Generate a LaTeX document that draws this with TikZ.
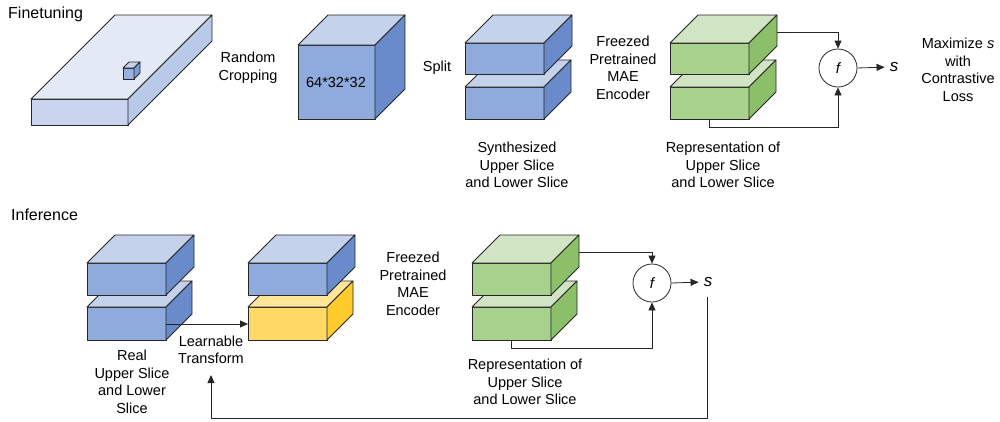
\documentclass[tikz,border=0pt]{standalone}
\usepackage{fontspec}
\setmainfont{Liberation Sans}
\usetikzlibrary{arrows.meta}
\definecolor{bfront}{HTML}{8FAADC}
\definecolor{btop}{HTML}{C5D2EC}
\definecolor{bside}{HTML}{6A8BCB}
\definecolor{lfront}{HTML}{C9D5EE}
\definecolor{ltop}{HTML}{E3E9F5}
\definecolor{lside}{HTML}{B9C9E8}
\definecolor{gfront}{HTML}{A9D18E}
\definecolor{gtop}{HTML}{D1E5C4}
\definecolor{gside}{HTML}{8CC068}
\definecolor{yfront}{HTML}{FFD966}
\definecolor{ytop}{HTML}{FFE699}
\definecolor{yside}{HTML}{FFCA2C}
% x y w h d front top side
\newcommand{\mybox}[8]{%
  \filldraw[edge,fill=#6] (#1,#2) rectangle ({#1+#3},{#2+#4});
  \filldraw[edge,fill=#7] (#1,#2) -- ({#1+#5},{#2-#5}) -- ({#1+#3+#5},{#2-#5}) -- ({#1+#3},#2) -- cycle;
  \filldraw[edge,fill=#8] ({#1+#3},#2) -- ({#1+#3+#5},{#2-#5}) -- ({#1+#3+#5},{#2+#4-#5}) -- ({#1+#3},{#2+#4}) -- cycle;
}
\begin{document}
\begin{tikzpicture}[x=1pt,y=-1pt,
  edge/.style={draw=black!85,line width=0.8pt,line join=round},
  lbl/.style={align=center,font=\fontsize{14.5}{17.6}\selectfont,inner sep=0pt},
  head/.style={anchor=west,font=\fontsize{16}{19}\selectfont,inner sep=0pt},
  fcirc/.style={circle,draw=black!85,line width=0.8pt,minimum size=38pt,inner sep=0pt,font=\fontsize{15}{18}\selectfont\itshape},
  snode/.style={font=\fontsize{17}{20}\selectfont\itshape,inner sep=1pt},
  arr/.style={draw=black!85,line width=0.8pt,-{Triangle[length=8pt,width=7pt]}},
  ln/.style={draw=black!85,line width=0.8pt}]
\useasboundingbox (0,0) rectangle (1000,421);

% ---------------- Finetuning ----------------
\node[head] (fin) at (8,14) {Finetuning};
% large slab
\mybox{31}{99}{97}{26}{84}{lfront}{ltop}{lside}
% small cube
\mybox{123}{68}{11}{11}{6}{bfront!85!lfront}{btop}{bside!80!lfront}
\node[lbl] (rc) at (248,68) {Random\\Cropping};
% cube
\mybox{298}{45}{77}{74}{30}{bfront}{btop}{bside}
\node[lbl] (dim) at (336,83) {64*32*32};
\node[lbl] (split) at (437,68) {Split};
% split stack
\mybox{465}{87}{79}{32}{27}{bfront}{btop}{bside}
\mybox{465}{43}{79}{31}{28}{bfront}{btop}{bside}
\node[lbl] (syn) at (517,165) {Synthesized\\Upper Slice\\and Lower Slice};
\node[lbl] (enc1) at (623,68) {Freezed\\Pretrained\\MAE\\Encoder};
% green stack
\mybox{670}{87}{79}{32}{27}{gfront}{gtop}{gside}
\mybox{670}{43}{79}{31}{28}{gfront}{gtop}{gside}
\node[lbl] (rep1) at (723,165) {Representation of\\Upper Slice\\and Lower Slice};
\node[fcirc] (f1) at (838,68) {f};
\node[snode] (s1) at (894,67) {s};
\node[lbl] (max) at (958,70) {Maximize \textit{s}\\with\\Contrastive\\Loss};
\coordinate (g1t) at (777,32);
\coordinate (g1b) at (709,119);
\coordinate (g1bb) at (709,127);
\draw[arr] (g1t) -| (f1.north);
\draw[ln] (g1b) -- (g1bb);
\draw[arr] (g1bb) -| (f1.south);
\draw[arr,shorten >=4pt] (f1.east) -- (s1.west);

% ---------------- Inference ----------------
\node[head] (inf) at (11,215) {Inference};
% real stack
\mybox{87}{307}{79}{33}{26}{bfront}{btop}{bside}
\mybox{87}{263}{79}{32}{28}{bfront}{btop}{bside}
\node[lbl] (real) at (132,382) {Real\\Upper Slice\\and Lower\\Slice};
% transformed stack
\mybox{248}{307}{79}{33}{26}{yfront}{ytop}{yside}
\mybox{248}{263}{79}{32}{28}{bfront}{btop}{bside}
\coordinate (rl) at (166,324);
\coordinate (yl) at (248,324);
\draw[arr] (rl) -- (yl);
\node[lbl] (lt) at (211,350) {Learnable\\Transform};
\node[lbl] (enc2) at (413,284) {Freezed\\Pretrained\\MAE\\Encoder};
% green stack
\mybox{472}{307}{79}{33}{26}{gfront}{gtop}{gside}
\mybox{472}{263}{79}{32}{28}{gfront}{gtop}{gside}
\node[lbl] (rep2) at (525,382) {Representation of\\Upper Slice\\and Lower Slice};
\node[fcirc] (f2) at (652,283) {f};
\node[snode] (s2) at (708,282) {s};
\coordinate (g2t) at (579,252);
\coordinate (g2b) at (511,340);
\coordinate (g2bb) at (511,348);
\draw[arr] (g2t) -| (f2.north);
\draw[ln] (g2b) -- (g2bb);
\draw[arr] (g2bb) -| (f2.south);
\draw[arr,shorten >=4pt] (f2.east) -- (s2.west);
\coordinate (sb) at (707,297);
\coordinate (fbl) at (707,418);
\coordinate (fbe) at (211,375);
\draw[arr] (sb) -- (fbl) -| (fbe);
\end{tikzpicture}
\end{document}
